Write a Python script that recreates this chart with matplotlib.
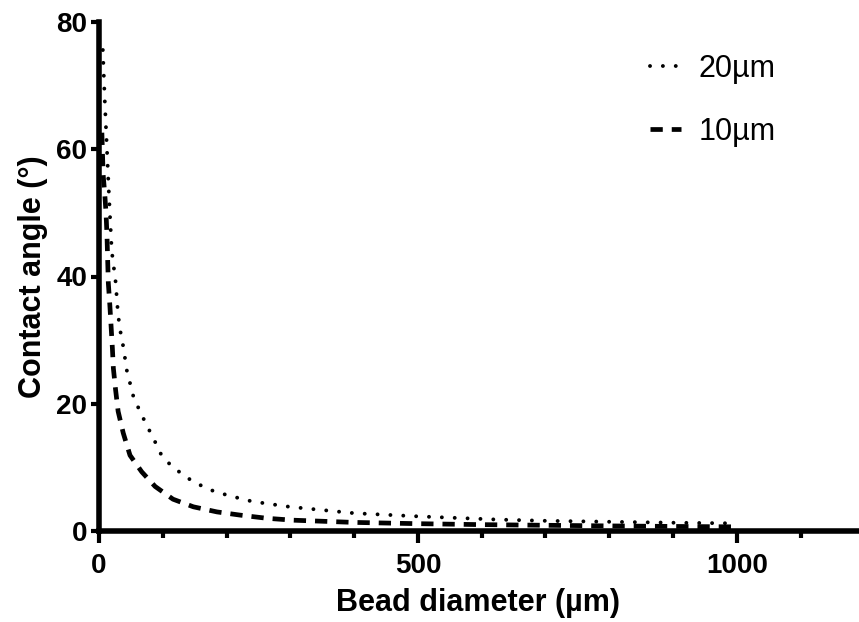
import matplotlib
matplotlib.use('Agg')
import matplotlib.pyplot as plt
from matplotlib.ticker import MultipleLocator

plt.rcParams['font.family'] = ['Liberation Sans', 'DejaVu Sans']

# values
d20 = [6, 9, 12.5, 16, 20, 26, 29, 31, 34, 38, 41, 44, 49, 54, 62, 71, 80, 89, 98,
       111, 127, 144, 161, 179, 199, 218, 238, 257, 299, 400, 500, 624, 700, 800, 900, 1000]
theta20 = [75.6, 67.8, 59.9, 52, 44, 39.2, 35.2, 33.2, 31.1, 29, 27, 25, 23.1, 21.1, 19.3,
           17.4, 15.6, 13.8, 11.9, 10.5, 9.2, 8.0, 7.1, 6.3, 5.7, 5.2, 4.7, 4.4, 3.8,
           2.8, 2.3, 1.8, 1.6, 1.45, 1.3, 1.2]

d10 = [4.5, 6.5, 9, 11, 12.5, 14.6, 17, 19, 21, 22.5, 26, 30, 38, 48.6, 67, 88, 116,
       148, 185, 221, 263, 304, 400, 500, 600, 700, 800, 900, 1000]
theta10 = [62.6, 56, 53, 50, 46.5, 39, 35.5, 32.1, 28.7, 25.6, 22.2, 18.8, 15.4, 11.9,
           9.3, 7.0, 5.0, 3.8, 3.0, 2.5, 2.0, 1.7, 1.35, 1.15, 1.0, 0.9, 0.8, 0.72, 0.65]

fig = plt.figure(figsize=(8.59, 6.22), dpi=100)
ax = fig.add_axes([99 / 859, 1 - 531 / 622, 759 / 859, 509 / 622])

ax.plot(d20, theta20, color='black', lw=2.8, linestyle=(0, (0.01, 3.3)),
        dash_capstyle='round', label='20\u00b5m')
ax.plot(d10, theta10, color='black', lw=3.4, linestyle=(0, (2.6, 1.9)),
        label='10\u00b5m')

ax.set_xlim(0, 1190)
ax.set_ylim(0, 80)

for s in ['top', 'right']:
    ax.spines[s].set_visible(False)
for s in ['left', 'bottom']:
    ax.spines[s].set_linewidth(4)
    ax.spines[s].set_capstyle('projecting')

ax.xaxis.set_major_locator(MultipleLocator(500))
ax.xaxis.set_minor_locator(MultipleLocator(100))
ax.yaxis.set_major_locator(MultipleLocator(20))

ax.tick_params(axis='x', which='major', length=8.6, width=3, pad=7, labelsize=20)
ax.tick_params(axis='x', which='minor', length=5, width=3)
ax.tick_params(axis='y', which='major', length=5.5, width=3, pad=3, labelsize=20)
for lab in ax.get_xticklabels() + ax.get_yticklabels():
    lab.set_fontweight('bold')

ax.set_xlabel('Bead diameter (\u00b5m)', fontsize=22, fontweight='bold', labelpad=7)
ax.set_ylabel('Contact angle (\u00b0)', fontsize=22, fontweight='bold', labelpad=6)

leg = ax.legend(loc='upper left', bbox_to_anchor=(650 / 859, 1 - 54 / 622),
                bbox_transform=fig.transFigure, frameon=False, fontsize=22,
                handlelength=1.0, handletextpad=0.6, labelspacing=1.08,
                borderpad=0, borderaxespad=0)

fig.savefig('out.png', dpi=100)
